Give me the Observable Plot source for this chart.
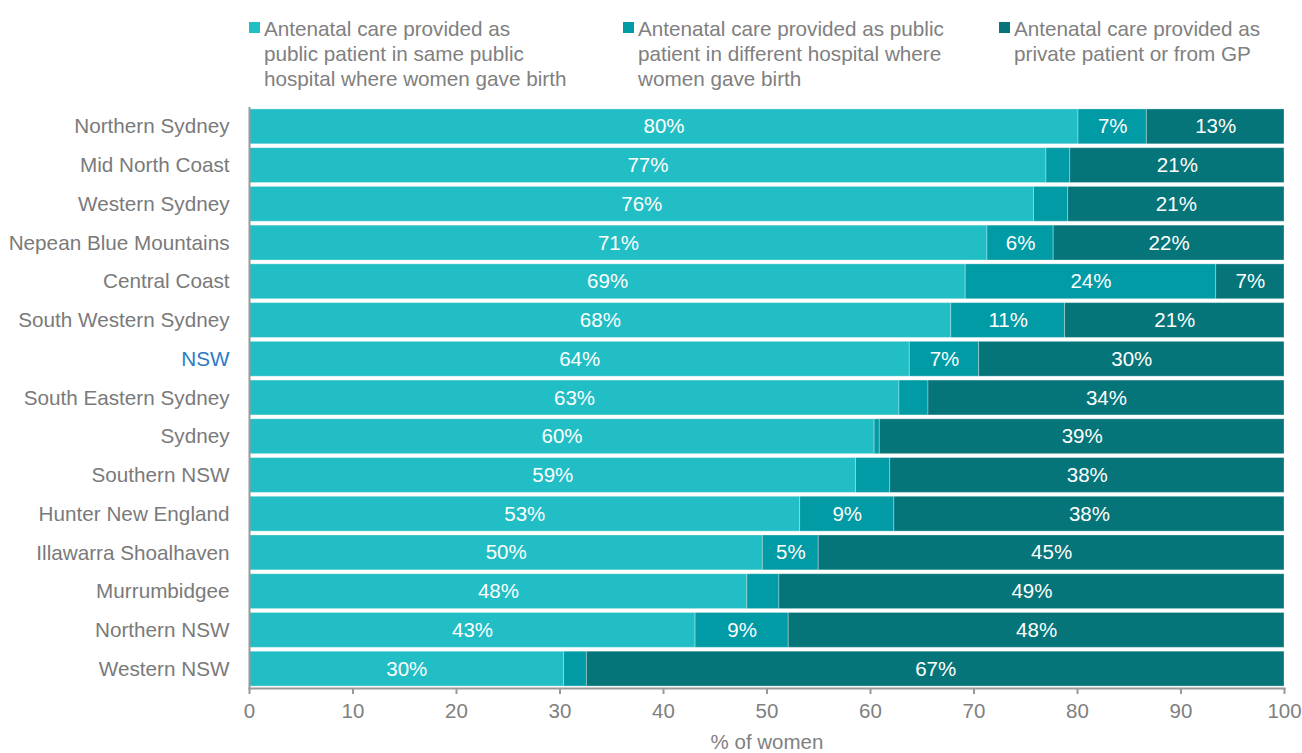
<!DOCTYPE html>
<html>
<head>
<meta charset="utf-8">
<script src="https://cdn.jsdelivr.net/npm/d3@7"></script>
<script src="https://cdn.jsdelivr.net/npm/@observablehq/plot@0.6"></script>
<style>
  html, body { margin: 0; padding: 0; background: #fff; overflow: hidden; }
  body { width: 1302px; height: 753px; position: relative; font-family: "Liberation Sans", Arial, sans-serif; }
  #legend { position: absolute; left: 0; top: 0; width: 1302px; height: 100px; }
  .item { position: absolute; top: 16px; color: #808080; font-size: 20.7px; line-height: 25px; padding-left: 15px; }
  .sw { position: absolute; left: 0; top: 6px; width: 11px; height: 11px; }
  #chart { position: absolute; left: 0; top: 100px; }
</style>
</head>
<body>
<div id="legend"></div>
<div id="chart"></div>
<script>
const regions = ["Northern Sydney", "Mid North Coast", "Western Sydney", "Nepean Blue Mountains", "Central Coast",
  "South Western Sydney", "NSW", "South Eastern Sydney", "Sydney", "Southern NSW", "Hunter New England",
  "Illawarra Shoalhaven", "Murrumbidgee", "Northern NSW", "Western NSW"];
const samePublic = [80.1, 77.0, 75.8, 71.3, 69.2, 67.8, 63.8, 62.8, 60.4, 58.6, 53.2, 49.6, 48.1, 43.1, 30.4];
const diffPublic = [6.6, 2.3, 3.3, 6.4, 24.2, 11.0, 6.7, 2.8, 0.5, 3.3, 9.1, 5.4, 3.1, 9.0, 2.2];
const privateGP = [13.3, 20.7, 20.9, 22.3, 6.6, 21.2, 29.5, 34.4, 39.1, 38.1, 37.7, 45.0, 48.8, 47.9, 67.4];
const seriesNames = [
  "Antenatal care provided as public patient in same public hospital where women gave birth",
  "Antenatal care provided as public patient in different hospital where women gave birth",
  "Antenatal care provided as private patient or from GP"
];
const legendLines = [
  ["Antenatal care provided as", "public patient in same public", "hospital where women gave birth"],
  ["Antenatal care provided as public", "patient in different hospital where", "women gave birth"],
  ["Antenatal care provided as", "private patient or from GP"]
];
const colors = ["#22bec5", "#009ba5", "#05757a"];
const xTicks = [0, 10, 20, 30, 40, 50, 60, 70, 80, 90, 100];
const highlight = "NSW";

const seriesValues = [samePublic, diffPublic, privateGP];
const data = [];
seriesValues.forEach((vals, si) => {
  regions.forEach((r, i) => data.push({region: r, series: seriesNames[si], value: vals[i]}));
});

// Legend
const legend = document.getElementById("legend");
const legendLeft = [249, 623, 999];
seriesNames.forEach((s, i) => {
  const it = document.createElement("div");
  it.className = "item";
  it.style.left = legendLeft[i] + "px";
  const sw = document.createElement("div");
  sw.className = "sw";
  sw.style.background = colors[i];
  it.appendChild(sw);
  const t = document.createElement("div");
  t.innerHTML = legendLines[i].join("<br>");
  it.appendChild(t);
  legend.appendChild(it);
});

const stackOpts = {x: "value", y: "region", z: "series", order: null};

const chart = Plot.plot({
  width: 1302,
  height: 653,
  marginTop: 7,
  marginBottom: 65,
  marginLeft: 249,
  marginRight: 18,
  style: {fontFamily: "Liberation Sans, Arial, sans-serif", fontSize: "20px", color: "#808080", background: "white"},
  x: {domain: [0, 100]},
  y: {domain: regions, paddingInner: 0.1, paddingOuter: 0.05, round: false},
  color: {domain: seriesNames, range: colors},
  marks: [
    Plot.barX(data, Plot.stackX({...stackOpts, fill: "series", stroke: "white", strokeOpacity: 0.3, strokeWidth: 1})),
    Plot.textX(data, Plot.stackX({...stackOpts,
      text: d => d.value >= 4.5 ? Math.round(d.value) + "%" : "",
      fill: "white", fontSize: 20.5})),
    Plot.ruleX([0], {stroke: "#999", strokeWidth: 2}),
    Plot.frame({anchor: "bottom", stroke: "#999", strokeWidth: 2}),
    Plot.axisY({tickSize: 0, tickPadding: 20, label: null, fill: "#7a7a7a", fontSize: 20.7}),
    Plot.axisX({ticks: xTicks, tickSize: 6, tickPadding: 9, stroke: "#999", strokeWidth: 2, fill: "#808080", fontSize: 20.5,
      label: "% of women", labelAnchor: "center", labelArrow: "none", labelOffset: 60})
  ]
});
document.getElementById("chart").appendChild(chart);

d3.select(chart).selectAll("text")
  .filter(function() { return this.textContent === highlight; })
  .attr("fill", "#2b7bc6");
</script>
</body>
</html>
